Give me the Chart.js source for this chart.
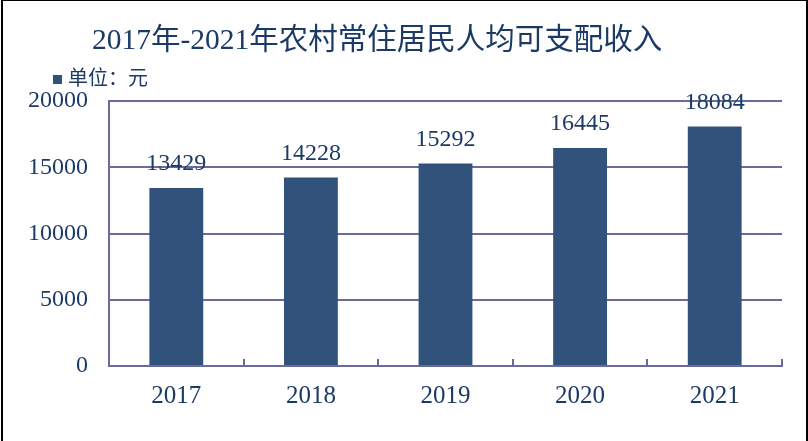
<!DOCTYPE html>
<html>
<head>
<meta charset="utf-8">
<script src="https://cdn.jsdelivr.net/npm/chart.js@4.4.1/dist/chart.umd.min.js"></script>
<style>
  html, body { margin: 0; padding: 0; background: #fff; }
  #wrap { position: relative; width: 808px; height: 441px; overflow: hidden; background: #fff; }
  #frame { position: absolute; left: 1px; top: 0; width: 803px; height: 441px;
           border-left: 2px solid #000; border-right: 2px solid #000; border-top: 1px solid #000; box-sizing: content-box; }
  canvas { position: absolute; left: 0; top: 0; }
  #title { position: absolute; left: 92px; top: 20px; font-family: "Liberation Serif", "Noto Sans CJK SC", serif;
           font-size: 29.5px; letter-spacing: 0px; color: #1B3A66; line-height: 38px; white-space: nowrap; }
  #legend { position: absolute; left: 53px; top: 66px; font-family: "Liberation Serif", "Noto Sans CJK SC", serif;
            font-size: 20px; color: #1B3A66; line-height: 24px; white-space: nowrap; }
  #legend .box { display: inline-block; width: 9px; height: 9px; background: #31527A; margin-right: 6px; vertical-align: 1px; }
</style>
</head>
<body>
<div id="wrap">
  <canvas id="c" width="808" height="441"></canvas>
  <div id="frame"></div>
  <div id="title">2017年-2021年农村常住居民人均可支配收入</div>
  <div id="legend"><span class="box"></span>单位：元</div>
</div>
<script>
const categories = ['2017', '2018', '2019', '2020', '2021'];
const incomeValues = [13429, 14228, 15292, 16445, 18084];
const seriesLabel = '单位：元';
const yTicks = [0, 5000, 10000, 15000, 20000];

const textColor = '#1B3A66';
const barColor = '#31527A';
const gridColor = '#6B6A9C';
const serif = '"Liberation Serif", "Times New Roman", serif';

const valueLabels = {
  id: 'valueLabels',
  afterDatasetsDraw(chart) {
    const ctx = chart.ctx;
    const meta = chart.getDatasetMeta(0);
    ctx.save();
    ctx.font = '24px ' + serif;
    ctx.fillStyle = textColor;
    ctx.textAlign = 'center';
    ctx.textBaseline = 'middle';
    meta.data.forEach((el, i) => {
      ctx.fillText(String(chart.data.datasets[0].data[i]), el.x, el.y - 24);
    });
    ctx.restore();
  }
};

new Chart(document.getElementById('c'), {
  type: 'bar',
  data: {
    labels: categories,
    datasets: [{
      label: seriesLabel,
      data: incomeValues,
      backgroundColor: barColor,
      borderWidth: 0,
      categoryPercentage: 1.0,
      barPercentage: 0.4
    }]
  },
  options: {
    responsive: false,
    animation: false,
    devicePixelRatio: 1,
    layout: { padding: { top: 101, right: 26, left: 0, bottom: 0 } },
    plugins: {
      legend: { display: false },
      title: { display: false },
      tooltip: { enabled: false }
    },
    scales: {
      x: {
        offset: true,
        border: { display: true, color: gridColor, width: 2 },
        grid: { display: true, offset: true, drawOnChartArea: false, drawTicks: true,
                tickLength: -7, color: gridColor, lineWidth: 2 },
        ticks: { color: textColor, font: { family: serif, size: 25 }, padding: 22 },
        afterFit(scale) { scale.height = 75; }
      },
      y: {
        min: 0,
        max: 20000,
        border: { display: true, color: gridColor, width: 2 },
        grid: { color: gridColor, lineWidth: 2, drawTicks: false },
        ticks: {
          stepSize: 5000,
          color: textColor,
          font: { family: serif, size: 24 },
          padding: 21,
          callback: (v) => yTicks.includes(v) ? String(v) : ''
        },
        afterFit(scale) { scale.width = 109; }
      }
    }
  },
  plugins: [valueLabels]
});
</script>
</body>
</html>
